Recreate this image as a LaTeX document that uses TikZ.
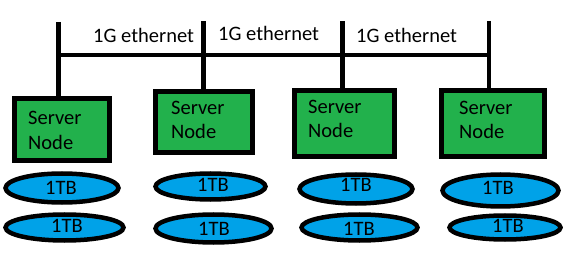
\documentclass[tikz,border=0pt]{standalone}
\usepackage{fontspec}
\setmainfont{Carlito}
\usetikzlibrary{shapes.geometric}
\definecolor{srvgreen}{HTML}{22B14C}
\definecolor{diskblue}{HTML}{00A2E8}
\begin{document}
\begin{tikzpicture}[x=1pt,y=-1pt,
  wire/.style={line width=4.5pt},
  srvbox/.style={draw, line width=5pt, fill=srvgreen, rectangle, inner sep=0pt},
  disk/.style={draw, line width=4.5pt, fill=diskblue, ellipse, inner sep=0pt},
  lbl/.style={font=\fontsize{20.5}{24}\selectfont, inner sep=0pt, anchor=base west},
  dlbl/.style={font=\fontsize{20.5}{24}\selectfont, inner sep=0pt}]
\useasboundingbox (0,0) rectangle (568,259);
% tops of the drops
\coordinate (t1) at (58.3,22);
\coordinate (t2) at (203.3,21.5);
\coordinate (t3) at (342.3,21.5);
\coordinate (t4) at (489,21);
% server boxes (centres, sizes along the stroke centre)
\node[srvbox, minimum width=95pt, minimum height=62pt] (b1) at (62.2,129.5) {};
\node[srvbox, minimum width=97pt, minimum height=61pt] (b2) at (204,122) {};
\node[srvbox, minimum width=100pt, minimum height=66pt] (b3) at (344.5,123.5) {};
\node[srvbox, minimum width=103pt, minimum height=66pt] (b4) at (493,123.5) {};
% bus
\coordinate (busL) at (58.3,55);
\coordinate (busR) at (489,55);
\draw[wire] (busL) -- (busR);
\draw[wire] (t1) -- (b1.north -| t1);
\draw[wire] (t2) -- (b2.north -| t2);
\draw[wire] (t3) -- (b3.north -| t3);
\draw[wire] (t4) -- (b4.north -| t4);
% bus labels
\node[lbl] (e1) at (93,43) {1G ethernet};
\node[lbl] (e2) at (218,41) {1G ethernet};
\node[lbl] (e3) at (356,43) {1G ethernet};
% server texts
\node[lbl] (s1a) at (28,125) {Server};
\node[lbl] (s1b) at (28,150) {Node};
\node[lbl] (s2a) at (171,115) {Server};
\node[lbl] (s2b) at (171,139) {Node};
\node[lbl] (s3a) at (308,114) {Server};
\node[lbl] (s3b) at (308,138) {Node};
\node[lbl] (s4a) at (459,115) {Server};
\node[lbl] (s4b) at (459,139) {Node};
% disks
\node[disk, minimum width=113pt, minimum height=29pt] (d1a) at (62,188) {};
\node[disk, minimum width=110pt, minimum height=26pt] (d2a) at (210.5,186.5) {};
\node[disk, minimum width=113pt, minimum height=29pt] (d3a) at (356,189) {};
\node[disk, minimum width=116pt, minimum height=32pt] (d4a) at (500.5,190.5) {};
\node[disk, minimum width=118pt, minimum height=26pt] (d1b) at (64.5,227.5) {};
\node[disk, minimum width=116pt, minimum height=28pt] (d2b) at (213.5,228.5) {};
\node[disk, minimum width=116pt, minimum height=26pt] (d3b) at (359.5,227.5) {};
\node[disk, minimum width=111pt, minimum height=24pt] (d4b) at (505,227.5) {};
\node[dlbl, anchor=base] at (61,194) {1TB};
\node[dlbl, anchor=base] at (213,192) {1TB};
\node[dlbl, anchor=base] at (356,192) {1TB};
\node[dlbl, anchor=base] at (498,195) {1TB};
\node[dlbl, anchor=base] at (67,233) {1TB};
\node[dlbl, anchor=base] at (214,236) {1TB};
\node[dlbl, anchor=base] at (359,235) {1TB};
\node[dlbl, anchor=base] at (508,233) {1TB};
\end{tikzpicture}
\end{document}
